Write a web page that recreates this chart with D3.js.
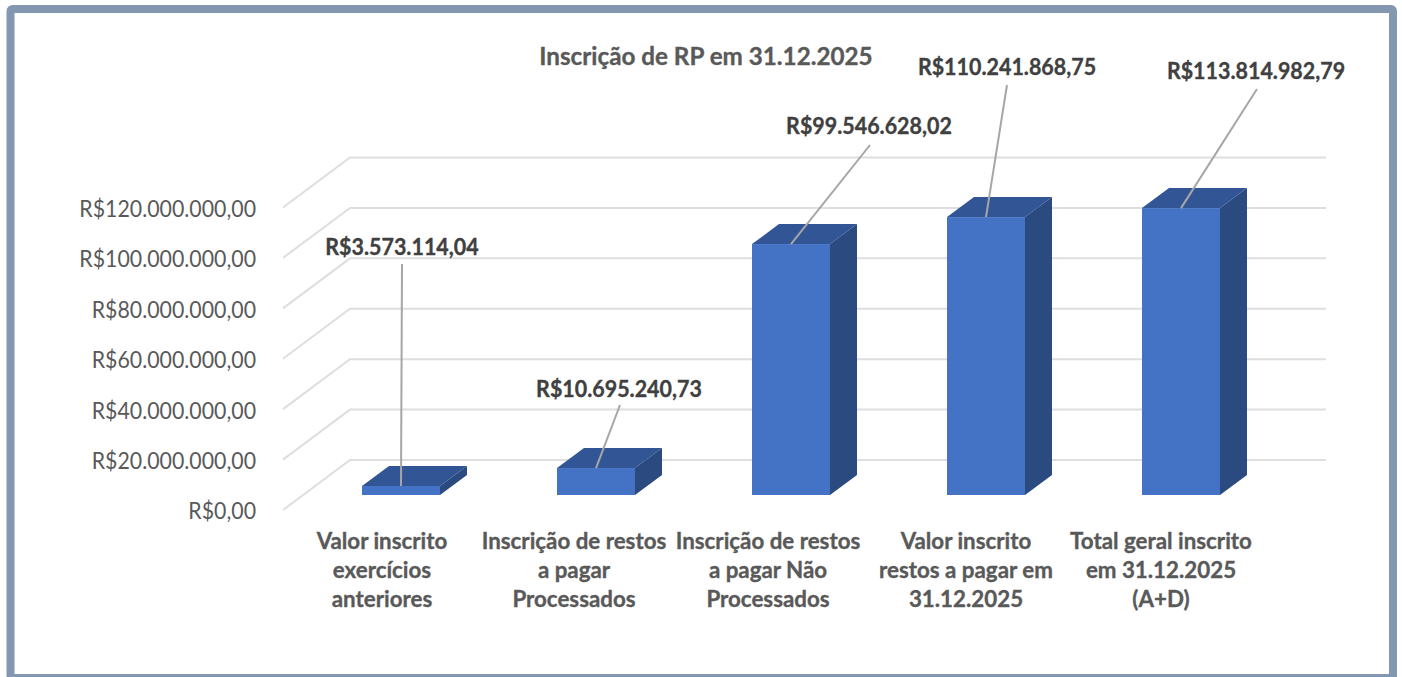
<!DOCTYPE html>
<html lang="pt-BR">
<head>
<meta charset="utf-8">
<script src="https://cdn.jsdelivr.net/npm/d3@7"></script>
<style>
html,body{margin:0;padding:0;background:#fff;overflow:hidden}
svg{display:block}
text{font-family:Lato,"Open Sans",sans-serif}
</style>
</head>
<body>
<div id="chart"></div>
<script>
const chartTitle = "Inscrição de RP em 31.12.2025";
const categories = [
  ["Valor inscrito","exercícios","anteriores"],
  ["Inscrição de restos","a pagar","Processados"],
  ["Inscrição de restos","a pagar Não","Processados"],
  ["Valor inscrito","restos a pagar em","31.12.2025"],
  ["Total geral inscrito","em 31.12.2025","(A+D)"]
];
const values = [3573114.04, 10695240.73, 99546628.02, 110241868.75, 113814982.79];
const valueLabels = ["R$3.573.114,04","R$10.695.240,73","R$99.546.628,02","R$110.241.868,75","R$113.814.982,79"];
const tickValues = [0,20000000,40000000,60000000,80000000,100000000,120000000];
const tickLabels = ["R$0,00","R$20.000.000,00","R$40.000.000,00","R$60.000.000,00","R$80.000.000,00","R$100.000.000,00","R$120.000.000,00"];

// layout
const W = 1402, H = 677;
const wall = {left:350, right:1326, bottom:460, top:157.5};
const floorDepth = {dx:-67, dy:50};
const barShift = {dx:-46.5, dy:35};
const barDepth = {dx:27, dy:-20};
const labelAnchors = [[402,255,402,264],[619,397,620,405],[869,134,870,145],[1007,75,1007,85],[1256,79,1257,89]];
const catCentres = [382,574,768,966,1161];
const catBaselines = [549,578,607];

const svg = d3.select("#chart").append("svg").attr("width",W).attr("height",H);

const y = d3.scaleLinear().domain([0,120000000]).range([wall.bottom,wall.top]);
const x = d3.scaleBand().domain(d3.range(values.length))
  .range([wall.left, wall.left+975]).paddingInner(0.6).paddingOuter(0.3);

// frame
svg.append("rect").attr("x",10.5).attr("y",9).attr("width",1382.5).attr("height",669)
  .attr("rx",2).attr("fill","#fff").attr("stroke","#8497B0").attr("stroke-width",8);

function squeeze(sel,factor){
  sel.each(function(){
    const w = this.getComputedTextLength();
    d3.select(this).attr("textLength",w*factor).attr("lengthAdjust","spacingAndGlyphs");
  });
  return sel;
}

// grid
const grid = svg.append("g").attr("fill","none").attr("stroke","#DEDEDE").attr("stroke-width",2);
grid.selectAll("path").data(tickValues).join("path")
  .attr("d",d=>{
    const p=d3.path();
    p.moveTo(wall.left+floorDepth.dx,y(d)+floorDepth.dy);
    p.lineTo(wall.left,y(d));
    p.lineTo(wall.right,y(d));
    return p.toString();
  });

// y axis labels via d3 axis
const axis = d3.axisLeft(y).tickValues(tickValues).tickFormat((d,i)=>tickLabels[i]).tickSize(0).tickPadding(0);
const axisG = svg.append("g").attr("transform",`translate(256,${floorDepth.dy+1.5})`).call(axis);
axisG.select(".domain").remove();
axisG.selectAll("text").attr("font-family","Lato").attr("font-size",23).attr("fill","#595959").attr("dy","0.32em").call(squeeze,0.927);

// bars
const bars = svg.append("g").selectAll("g").data(values).join("g");
const bw = x.bandwidth();
const barTop = v=>y(v)+barShift.dy;
const barFloor = y(0)+barShift.dy;
bars.append("path").attr("fill","#325695").attr("d",(v,i)=>{
  const l=x(i)+barShift.dx, t=barTop(v);
  return `M${l},${t}L${l+barDepth.dx},${t+barDepth.dy}H${l+bw+barDepth.dx}L${l+bw},${t}Z`;
});
bars.append("path").attr("fill","#2A4A80").attr("d",(v,i)=>{
  const r=x(i)+barShift.dx+bw, t=barTop(v);
  return `M${r},${t}L${r+barDepth.dx},${t+barDepth.dy}V${barFloor+barDepth.dy}L${r},${barFloor}Z`;
});
bars.append("rect").attr("fill","#4472C4")
  .attr("x",(v,i)=>x(i)+barShift.dx).attr("y",v=>barTop(v))
  .attr("width",bw).attr("height",v=>barFloor-barTop(v));

// leaders
svg.append("g").attr("stroke","#A6A6A6").attr("stroke-width",2).selectAll("line").data(values).join("line")
  .attr("x1",(v,i)=>labelAnchors[i][2]).attr("y1",(v,i)=>labelAnchors[i][3])
  .attr("x2",(v,i)=>x(i)+barShift.dx+bw/2).attr("y2",v=>barTop(v));

// value labels
svg.append("g").selectAll("text").data(valueLabels).join("text")
  .attr("x",(d,i)=>labelAnchors[i][0]).attr("y",(d,i)=>labelAnchors[i][1])
  .attr("text-anchor","middle").attr("font-size",23).attr("font-weight",700).attr("fill","#404040")
  .attr("stroke","#404040").attr("stroke-width",0.35)
  .text(d=>d).call(squeeze,0.932);

// category labels
const cg = svg.append("g").selectAll("g").data(categories).join("g");
cg.selectAll("text").data((d,i)=>d.map((t,k)=>({t,k,i}))).join("text")
  .attr("x",d=>catCentres[d.i]).attr("y",d=>catBaselines[d.k])
  .attr("text-anchor","middle").attr("font-size",23.5).attr("font-weight",700).attr("fill","#595959")
  .attr("stroke","#595959").attr("stroke-width",0.35)
  .text(d=>d.t).call(squeeze,0.95);

// title
svg.append("text").attr("x",706).attr("y",65).attr("text-anchor","middle")
  .attr("font-size",25.5).attr("font-weight",700).attr("fill","#595959")
  .attr("stroke","#595959").attr("stroke-width",0.35)
  .text(chartTitle).call(squeeze,0.95);
</script>
</body>
</html>
